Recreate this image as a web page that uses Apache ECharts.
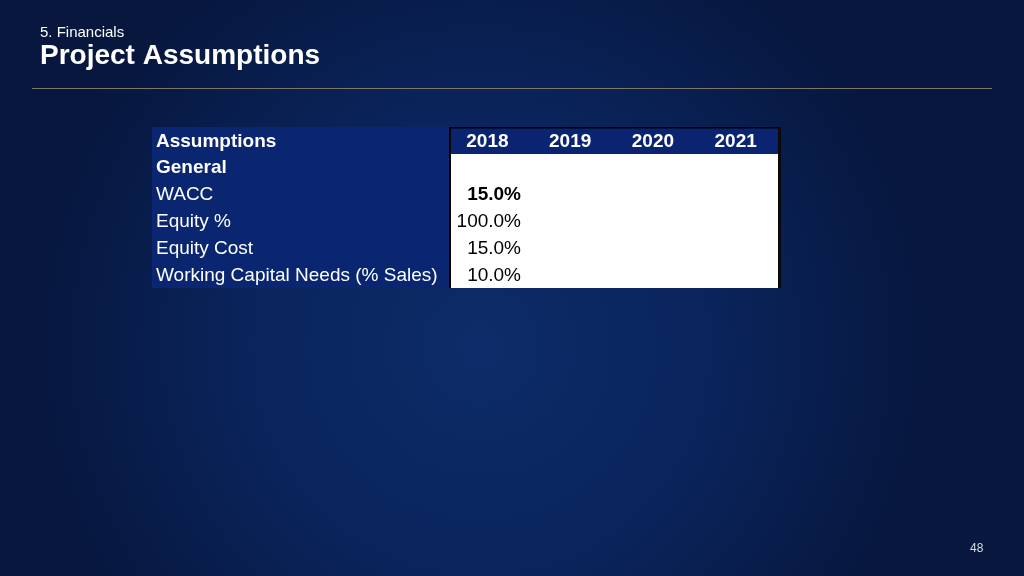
<!DOCTYPE html>
<html>
<head>
<meta charset="utf-8">
<script src="https://cdn.jsdelivr.net/npm/echarts@6/dist/echarts.min.js"></script>
<style>html,body{margin:0;padding:0;}#c{width:1024px;height:576px;}</style>
</head>
<body>
<div id="c"></div>
<script>
// ---- data ----
const rowLabels = ['Assumptions', 'General', 'WACC', 'Equity %', 'Equity Cost', 'Working Capital Needs (% Sales)'];
const boldRows = [true, true, false, false, false, false];
const years = ['2018', '2019', '2020', '2021'];
// values per year, aligned with rowLabels (row 0 = header, row 1 = section title)
const values2018 = [null, null, 15.0, 100.0, 15.0, 10.0];
const values2019 = [null, null, null, null, null, null];
const values2020 = [null, null, null, null, null, null];
const values2021 = [null, null, null, null, null, null];
const boldValueRows = [false, false, true, false, false, false];
const sectionTitle = '5. Financials';
const pageTitle = 'Project Assumptions';
const pageNumber = '48';

const yearValues = [values2018, values2019, values2020, values2021];
const FAMILY = 'Liberation Sans';
const HEADER_FILL = '#0a2472';
const LABEL_FILL = '#0a2670';

const labelCells = rowLabels.map((t, r) => ({ text: t, bold: boldRows[r] }));
const labelData = rowLabels.map((t, r) => [0, r]);

const dataCells = [];
const dataData = [];
years.forEach((y, c) => {
  rowLabels.forEach((_, r) => {
    let text = '';
    if (r === 0) text = y;
    else if (yearValues[c][r] != null) text = yearValues[c][r].toFixed(1) + '%';
    dataCells.push({ text, header: r === 0, bold: r === 0 || boldValueRows[r],
      first: c === 0, last: c === years.length - 1 });
    dataData.push([c, r]);
  });
});

function txt(text, x, y, align, color, size, bold) {
  return { type: 'text', style: { text: text, x: x, y: y, align: align, verticalAlign: 'middle',
    fill: color, fontFamily: FAMILY, fontSize: size, fontWeight: bold ? 'bold' : 'normal' } };
}
// pixel-snapped cell box from the axis scales
function cellBox(api) {
  const p = api.coord([api.value(0), api.value(1)]);
  const s = api.size([1, 1]);
  const x0 = Math.round(p[0] - s[0] / 2), x1 = Math.round(p[0] + s[0] / 2);
  const y0 = Math.round(p[1] - s[1] / 2), y1 = Math.round(p[1] + s[1] / 2);
  return { p: p, x0: x0, x1: x1, y0: y0, y1: y1 };
}

const chart = echarts.init(document.getElementById('c'), null, { renderer: 'canvas' });
chart.setOption({
  backgroundColor: {
    type: 'radial', x: 0.47, y: 0.6, r: 0.8,
    colorStops: [
      { offset: 0, color: '#0d2c69' },
      { offset: 0.5, color: '#0a245c' },
      { offset: 1, color: '#07173d' }
    ]
  },
  animation: false,
  grid: [
    { left: 152, top: 127, width: 297, height: 161 },
    { left: 449, top: 127, width: 331, height: 161 }
  ],
  xAxis: [
    { gridIndex: 0, type: 'category', data: ['label'], show: false },
    { gridIndex: 1, type: 'category', data: years, show: false }
  ],
  yAxis: [
    { gridIndex: 0, type: 'category', data: rowLabels, inverse: true, show: false },
    { gridIndex: 1, type: 'category', data: rowLabels, inverse: true, show: false }
  ],
  series: [
    {
      type: 'custom', xAxisIndex: 0, yAxisIndex: 0, data: labelData, z: 1,
      renderItem: function (params, api) {
        const b = cellBox(api);
        const cell = labelCells[params.dataIndex];
        return { type: 'group', children: [
          { type: 'rect', shape: { x: b.x0, y: b.y0, width: b.x1 - b.x0, height: b.y1 - b.y0 },
            style: { fill: LABEL_FILL } },
          txt(cell.text, b.x0 + 4, b.p[1] + 1, 'left', '#ffffff', 19, cell.bold)
        ] };
      }
    },
    {
      type: 'custom', xAxisIndex: 1, yAxisIndex: 1, data: dataData, z: 1,
      renderItem: function (params, api) {
        const b = cellBox(api);
        const cell = dataCells[params.dataIndex];
        const fill = cell.header ? HEADER_FILL : '#ffffff';
        const children = [
          { type: 'rect', z2: 1, shape: { x: b.x0, y: b.y0, width: b.x1 - b.x0, height: b.y1 - b.y0 },
            style: { fill: fill } }
        ];
        if (cell.header) {
          children.push({ type: 'rect', z2: 4, shape: { x: b.x0, y: b.y0, width: b.x1 - b.x0, height: 1.5 },
            style: { fill: '#000000' } });
        }
        if (cell.first) {
          children.push({ type: 'rect', z2: 4, shape: { x: b.x0, y: b.y0, width: 2, height: b.y1 - b.y0 },
            style: { fill: '#000000' } });
        }
        if (cell.last) {
          children.push({ type: 'rect', z2: 4, shape: { x: b.x1 - 2, y: b.y0, width: 3, height: b.y1 - b.y0 },
            style: { fill: '#0a0a0a' } });
        }
        if (cell.text) {
          children.push(cell.header
            ? Object.assign(txt(cell.text, b.p[0] - 3, b.p[1] + 1, 'center', '#ffffff', 19, true), { z2: 3 })
            : Object.assign(txt(cell.text, b.x1 - 11, b.p[1] + 1, 'right', '#000000', 19, cell.bold), { z2: 3 }));
        }
        return { type: 'group', children: children };
      }
    }
  ],
  graphic: [
    { type: 'text', left: 40, top: 25, style: { text: sectionTitle, fill: '#ffffff', fontFamily: FAMILY, fontSize: 15 } },
    { type: 'text', left: 40, top: 42, style: { text: pageTitle, fill: '#ffffff', fontFamily: FAMILY, fontSize: 28, fontWeight: 'bold' } },
    { type: 'line', shape: { x1: 32, y1: 88.5, x2: 992, y2: 88.5 }, style: { stroke: '#7d7565', lineWidth: 1 } },
    { type: 'text', left: 970, top: 543, style: { text: pageNumber, fill: '#d8dce6', fontFamily: FAMILY, fontSize: 12 } }
  ]
});
</script>
</body>
</html>
